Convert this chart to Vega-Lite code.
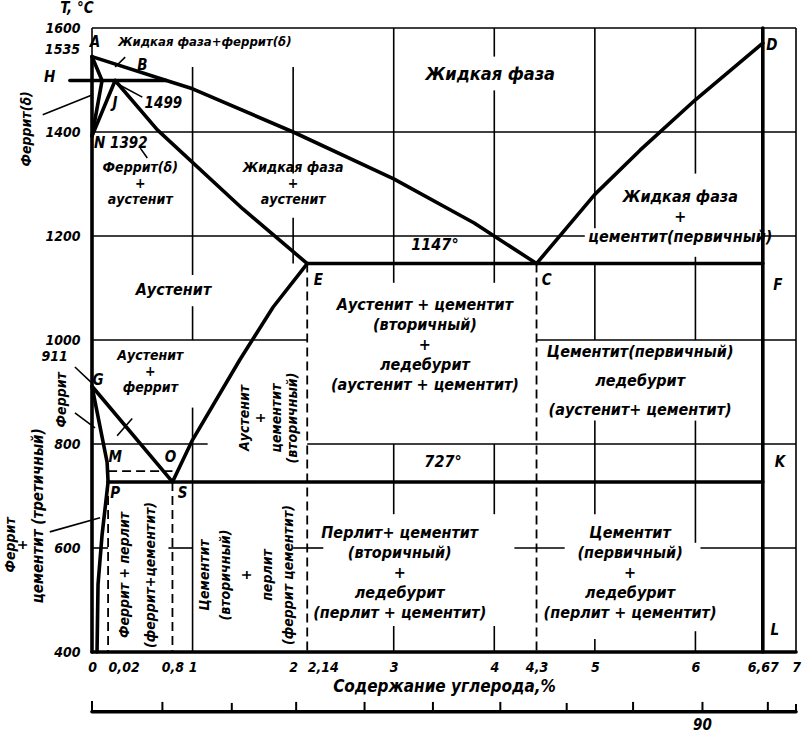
{
  "$schema": "https://vega.github.io/schema/vega-lite/v6.json",
  "width": 704,
  "height": 624,
  "autosize": {"type": "none"},
  "padding": {"left": 92, "top": 28, "right": 10, "bottom": 82},
  "background": "white",
  "config": {
    "view": {"stroke": null},
    "text": {"font": "DejaVu Sans Condensed, DejaVu Sans, sans-serif", "fontWeight": "bold", "fontStyle": "italic", "color": "black"}
  },
  "datasets": {
    "grid": [
      {"x": 0, "x2": 7, "t": 1400, "t2": 1400},
      {"x": 0, "x2": 4.9, "t": 1200, "t2": 1200},
      {"x": 6.67, "x2": 7, "t": 1200, "t2": 1200},
      {"x": 0, "x2": 2.14, "t": 1000, "t2": 1000},
      {"x": 4.42, "x2": 7, "t": 1000, "t2": 1000},
      {"x": 0, "x2": 1.15, "t": 800, "t2": 800},
      {"x": 2.14, "x2": 7, "t": 800, "t2": 800},
      {"x": 0, "x2": 0.16, "t": 600, "t2": 600},
      {"x": 0.76, "x2": 1.0, "t": 600, "t2": 600},
      {"x": 2.0, "x2": 2.3, "t": 600, "t2": 600},
      {"x": 4.2, "x2": 4.7, "t": 600, "t2": 600},
      {"x": 6.05, "x2": 7, "t": 600, "t2": 600},
      {"x": 1, "x2": 1, "t": 1525, "t2": 1125},
      {"x": 1, "x2": 1, "t": 1065, "t2": 1000},
      {"x": 1, "x2": 1, "t": 870, "t2": 400},
      {"x": 2, "x2": 2, "t": 1525, "t2": 1320},
      {"x": 2, "x2": 2, "t": 1235, "t2": 1147},
      {"x": 3, "x2": 3, "t": 1600, "t2": 1110},
      {"x": 3, "x2": 3, "t": 800, "t2": 665},
      {"x": 3, "x2": 3, "t": 450, "t2": 400},
      {"x": 4, "x2": 4, "t": 1600, "t2": 1545},
      {"x": 4, "x2": 4, "t": 1480, "t2": 1110},
      {"x": 4, "x2": 4, "t": 800, "t2": 665},
      {"x": 4, "x2": 4, "t": 450, "t2": 400},
      {"x": 5, "x2": 5, "t": 1600, "t2": 1215},
      {"x": 5, "x2": 5, "t": 1147, "t2": 1000},
      {"x": 5, "x2": 5, "t": 845, "t2": 665},
      {"x": 5, "x2": 5, "t": 425, "t2": 400},
      {"x": 6, "x2": 6, "t": 1600, "t2": 1320},
      {"x": 6, "x2": 6, "t": 1160, "t2": 1000},
      {"x": 6, "x2": 6, "t": 845, "t2": 610},
      {"x": 6, "x2": 6, "t": 440, "t2": 400},
      {"x": 0, "x2": 7, "t": 1600, "t2": 1600},
      {"x": 7, "x2": 7, "t": 1600, "t2": 400},
      {"x": 0, "x2": 0, "t": 1600, "t2": 1545}
    ],
    "scaleticks": [
      {"x": 0, "t": 285, "t2": 306},
      {"x": 0.7, "t": 285, "t2": 304},
      {"x": 1.39, "t": 285, "t2": 302},
      {"x": 2.03, "t": 285, "t2": 304},
      {"x": 2.71, "t": 285, "t2": 304},
      {"x": 3.39, "t": 285, "t2": 304},
      {"x": 4.06, "t": 285, "t2": 304},
      {"x": 4.72, "t": 285, "t2": 302},
      {"x": 5.38, "t": 285, "t2": 304},
      {"x": 6.07, "t": 285, "t2": 304},
      {"x": 6.72, "t": 285, "t2": 304},
      {"x": 7, "t": 285, "t2": 300}
    ],
    "thick": [
      {"id": "liq", "k": 0, "x": 0, "t": 1545},
      {"id": "liq", "k": 1, "x": 0.74, "t": 1499},
      {"id": "liq", "k": 2, "x": 1.0, "t": 1483},
      {"id": "liq", "k": 3, "x": 2.0, "t": 1400},
      {"id": "liq", "k": 4, "x": 3.0, "t": 1310},
      {"id": "liq", "k": 5, "x": 3.8, "t": 1225},
      {"id": "liq", "k": 6, "x": 4.42, "t": 1147},
      {"id": "je", "k": 0, "x": 0.23, "t": 1499},
      {"id": "je", "k": 1, "x": 0.65, "t": 1404},
      {"id": "je", "k": 2, "x": 1.5, "t": 1252},
      {"id": "je", "k": 3, "x": 2.14, "t": 1147},
      {"id": "cd", "k": 0, "x": 4.42, "t": 1147},
      {"id": "cd", "k": 1, "x": 5.0, "t": 1280},
      {"id": "cd", "k": 2, "x": 5.45, "t": 1365},
      {"id": "cd", "k": 3, "x": 6.0, "t": 1462},
      {"id": "cd", "k": 4, "x": 6.67, "t": 1571},
      {"id": "ecf", "k": 0, "x": 2.14, "t": 1147},
      {"id": "ecf", "k": 1, "x": 6.67, "t": 1147},
      {"id": "es", "k": 0, "x": 0.8, "t": 727},
      {"id": "es", "k": 1, "x": 1.0, "t": 808},
      {"id": "es", "k": 2, "x": 1.47, "t": 962},
      {"id": "es", "k": 3, "x": 1.8, "t": 1063},
      {"id": "es", "k": 4, "x": 2.14, "t": 1147},
      {"id": "gs", "k": 0, "x": 0, "t": 911},
      {"id": "gs", "k": 1, "x": 0.8, "t": 727},
      {"id": "gp", "k": 0, "x": 0, "t": 911},
      {"id": "gp", "k": 1, "x": 0.15, "t": 765},
      {"id": "gp", "k": 2, "x": 0.16, "t": 727},
      {"id": "pq", "k": 0, "x": 0.16, "t": 727},
      {"id": "pq", "k": 1, "x": 0.1, "t": 625},
      {"id": "pq", "k": 2, "x": 0.06, "t": 530},
      {"id": "pq", "k": 3, "x": 0.05, "t": 400},
      {"id": "psk", "k": 0, "x": 0.16, "t": 727},
      {"id": "psk", "k": 1, "x": 6.67, "t": 727},
      {"id": "ah", "k": 0, "x": 0, "t": 1545},
      {"id": "ah", "k": 1, "x": 0.1, "t": 1499},
      {"id": "hn", "k": 0, "x": 0.1, "t": 1499},
      {"id": "hn", "k": 1, "x": 0, "t": 1392},
      {"id": "jn", "k": 0, "x": 0.23, "t": 1499},
      {"id": "jn", "k": 1, "x": 0, "t": 1392},
      {"id": "hjb", "k": 0, "x": -0.22, "t": 1499},
      {"id": "hjb", "k": 1, "x": 0.74, "t": 1499},
      {"id": "left", "k": 0, "x": 0, "t": 400},
      {"id": "left", "k": 1, "x": 0, "t": 1545},
      {"id": "fe3c", "k": 0, "x": 6.67, "t": 400},
      {"id": "fe3c", "k": 1, "x": 6.67, "t": 1600},
      {"id": "bottom", "k": 0, "x": 0, "t": 400},
      {"id": "bottom", "k": 1, "x": 7, "t": 400},
      {"id": "bar", "k": 0, "x": 0, "t": 285},
      {"id": "bar", "k": 1, "x": 7, "t": 285}
    ],
    "dashed": [
      {"id": "p", "k": 0, "x": 0.16, "t": 727},
      {"id": "p", "k": 1, "x": 0.16, "t": 400},
      {"id": "s", "k": 0, "x": 0.8, "t": 727},
      {"id": "s", "k": 1, "x": 0.8, "t": 400},
      {"id": "e", "k": 0, "x": 2.14, "t": 1147},
      {"id": "e", "k": 1, "x": 2.14, "t": 400},
      {"id": "c", "k": 0, "x": 4.42, "t": 1147},
      {"id": "c", "k": 1, "x": 4.42, "t": 400},
      {"id": "mo", "k": 0, "x": 0.16, "t": 748},
      {"id": "mo", "k": 1, "x": 0.8, "t": 748}
    ],
    "thin": [
      {"id": "fd", "k": 0, "x": -0.49, "t": 1433},
      {"id": "fd", "k": 1, "x": 0, "t": 1471},
      {"id": "g911", "k": 0, "x": -0.17, "t": 948},
      {"id": "g911", "k": 1, "x": 0, "t": 917},
      {"id": "fer", "k": 0, "x": -0.17, "t": 860},
      {"id": "fer", "k": 1, "x": 0.03, "t": 831},
      {"id": "fct", "k": 0, "x": -0.42, "t": 631},
      {"id": "fct", "k": 1, "x": 0.08, "t": 658},
      {"id": "ldf", "k": 0, "x": 0.33, "t": 1544},
      {"id": "ldf", "k": 1, "x": 0.23, "t": 1525},
      {"id": "l1499", "k": 0, "x": 0.21, "t": 1497},
      {"id": "l1499", "k": 1, "x": 0.5, "t": 1467},
      {"id": "n1392", "k": 0, "x": 0.48, "t": 1369},
      {"id": "n1392", "k": 1, "x": 0.55, "t": 1350},
      {"id": "af", "k": 0, "x": 0.25, "t": 816},
      {"id": "af", "k": 1, "x": 0.4, "t": 849}
    ],
    "lab16": [
      {"x": 0.48, "t": 1331, "txt": "Феррит(δ)\n+\nаустенит"},
      {"x": 2.0, "t": 1331, "txt": "Жидкая фаза\n+\nаустенит"},
      {"x": 0.58, "t": 969, "txt": "Аустенит\n+\nферрит"}
    ],
    "lab20": [
      {"x": 5.85, "t": 1275, "txt": "Жидкая фаза\n+\nцементит(первичный)"},
      {"x": 3.41, "t": 1183, "txt": "1147°"},
      {"x": 0.81, "t": 1096, "txt": "Аустенит"},
      {"x": 3.31, "t": 1067, "txt": "Аустенит + цементит\n(вторичный)\n+\nледебурит\n(аустенит + цементит)"},
      {"x": 3.49, "t": 765, "txt": "727°"},
      {"x": 3.06, "t": 629, "txt": "Перлит+ цементит\n(вторичный)\n+\nледебурит\n(перлит + цементит)"},
      {"x": 5.35, "t": 629, "txt": "Цементит\n(первичный)\n+\nледебурит\n(перлит + цементит)"}
    ],
    "lab29": [
      {"x": 5.45, "t": 977, "txt": "Цементит(первичный)\nледебурит\n(аустенит+ цементит)"}
    ],
    "big": [
      {"x": 3.96, "t": 1510, "txt": "Жидкая фаза"}
    ],
    "leftlab": [
      {"x": 0.26, "t": 1573, "txt": "Жидкая фаза+феррит(δ)"}
    ],
    "leftlab15": [
      {"x": 0.0, "t": 1379, "txt": "N 1392"}
    ],
    "letters": [
      {"x": 0.03, "t": 1573, "txt": "A"},
      {"x": 0.5, "t": 1529, "txt": "B"},
      {"x": 0.23, "t": 1456, "txt": "J"},
      {"x": 0.71, "t": 1456, "txt": "1499"},
      {"x": 2.25, "t": 1115, "txt": "E"},
      {"x": 4.52, "t": 1115, "txt": "C"},
      {"x": 6.82, "t": 1106, "txt": "F"},
      {"x": 6.76, "t": 1567, "txt": "D"},
      {"x": 0.06, "t": 923, "txt": "G"},
      {"x": 0.23, "t": 775, "txt": "M"},
      {"x": 0.78, "t": 775, "txt": "O"},
      {"x": 0.23, "t": 706, "txt": "P"},
      {"x": 0.9, "t": 706, "txt": "S"},
      {"x": 6.84, "t": 765, "txt": "K"},
      {"x": 6.79, "t": 442, "txt": "L"},
      {"x": -0.42, "t": 1506, "txt": "H"},
      {"x": -0.15, "t": 1638, "txt": "T, °C"},
      {"x": 6.07, "t": 260, "txt": "90"}
    ],
    "ylab": [
      {"x": -0.12, "t": 1558, "txt": "1535"},
      {"x": -0.24, "t": 967, "txt": "911"}
    ],
    "rot16": [
      {"x": 1.52, "t": 850, "txt": "Аустенит\n+\nцементит\n(вторичный)"},
      {"x": -0.65, "t": 1406, "txt": "Феррит(δ)"},
      {"x": -0.3, "t": 885, "txt": "Феррит"}
    ],
    "rotwide": [
      {"x": -0.54, "t": 662, "txt": "цементит (третичный)"}
    ],
    "rot21": [
      {"x": 1.12, "t": 548, "txt": "Цементит\n(вторичный)\n+\nперлит\n(феррит цементит)"}
    ],
    "rot26": [
      {"x": 0.33, "t": 548, "txt": "Феррит + перлит\n(феррит+цементит)"}
    ],
    "rot12": [
      {"x": -0.81, "t": 606, "txt": "Феррит\n+"}
    ]
  },
  "encoding": {
    "x": {
      "field": "x", "type": "quantitative",
      "scale": {"domain": [0, 7], "nice": false, "zero": false},
      "axis": {
        "values": [0, 0.16, 0.8, 1, 2, 2.14, 3, 4, 4.42, 5, 6, 6.67, 7],
        "labelExpr": "datum.value == 0.16 ? '0,02' : datum.value == 4.42 ? '4,3' : replace(toString(datum.value), '.', ',')",
        "labelAlign": {"condition": {"test": "datum.value == 0.16 || datum.value == 2.14", "value": "left"}, "value": "center"},
        "ticks": false, "domain": false, "grid": false,
        "labelOverlap": false, "labelFlush": false,
        "labelFont": "DejaVu Sans Condensed, DejaVu Sans, sans-serif",
        "labelFontSize": 14, "labelFontWeight": "bold", "labelFontStyle": "italic", "labelColor": "black",
        "labelPadding": 8,
        "title": "Содержание углерода,%",
        "titleFont": "DejaVu Sans Condensed, DejaVu Sans, sans-serif",
        "titleFontSize": 17, "titleFontWeight": "bold", "titleFontStyle": "italic", "titleColor": "black",
        "titlePadding": 4
      }
    },
    "y": {
      "field": "t", "type": "quantitative",
      "scale": {"domain": [400, 1600], "nice": false, "zero": false},
      "axis": {
        "values": [400, 600, 800, 1000, 1200, 1400, 1600],
        "format": "d",
        "ticks": false, "domain": false, "grid": false,
        "labelOverlap": false, "labelFlush": false,
        "labelFont": "DejaVu Sans Condensed, DejaVu Sans, sans-serif",
        "labelFontSize": 14, "labelFontWeight": "bold", "labelFontStyle": "italic", "labelColor": "black",
        "labelPadding": 12,
        "title": null
      }
    }
  },
  "layer": [
    {"data": {"name": "grid"}, "mark": {"type": "rule", "color": "black", "strokeWidth": 1.6},
     "encoding": {"x2": {"field": "x2"}, "y2": {"field": "t2"}}},
    {"data": {"name": "scaleticks"}, "mark": {"type": "rule", "color": "black", "strokeWidth": 2},
     "encoding": {"y2": {"field": "t2"}}},
    {"data": {"name": "thin"}, "mark": {"type": "line", "color": "black", "strokeWidth": 1.6},
     "encoding": {"detail": {"field": "id"}, "order": {"field": "k"}}},
    {"data": {"name": "dashed"}, "mark": {"type": "line", "color": "black", "strokeWidth": 1.8, "strokeDash": [9, 5]},
     "encoding": {"detail": {"field": "id"}, "order": {"field": "k"}}},
    {"data": {"name": "thick"}, "mark": {"type": "line", "color": "black", "strokeWidth": 3.6, "strokeCap": "round", "strokeJoin": "round"},
     "encoding": {"detail": {"field": "id"}, "order": {"field": "k"}}},
    {"data": {"name": "lab16"}, "mark": {"type": "text", "fontSize": 14, "lineHeight": 16, "lineBreak": "\n", "align": "center", "baseline": "middle"},
     "encoding": {"text": {"field": "txt"}}},
    {"data": {"name": "lab20"}, "mark": {"type": "text", "fontSize": 16, "lineHeight": 20, "lineBreak": "\n", "align": "center", "baseline": "middle"},
     "encoding": {"text": {"field": "txt"}}},
    {"data": {"name": "lab29"}, "mark": {"type": "text", "fontSize": 16, "lineHeight": 29, "lineBreak": "\n", "align": "center", "baseline": "middle"},
     "encoding": {"text": {"field": "txt"}}},
    {"data": {"name": "big"}, "mark": {"type": "text", "fontSize": 18, "align": "center", "baseline": "middle"},
     "encoding": {"text": {"field": "txt"}}},
    {"data": {"name": "leftlab"}, "mark": {"type": "text", "fontSize": 13, "align": "left", "baseline": "middle"},
     "encoding": {"text": {"field": "txt"}}},
    {"data": {"name": "leftlab15"}, "mark": {"type": "text", "fontSize": 15, "align": "left", "baseline": "middle", "dx": 2},
     "encoding": {"text": {"field": "txt"}}},
    {"data": {"name": "letters"}, "mark": {"type": "text", "fontSize": 15, "align": "center", "baseline": "middle"},
     "encoding": {"text": {"field": "txt"}}},
    {"data": {"name": "ylab"}, "mark": {"type": "text", "fontSize": 14, "align": "right", "baseline": "middle"},
     "encoding": {"text": {"field": "txt"}}},
    {"data": {"name": "rot16"}, "mark": {"type": "text", "fontSize": 14, "angle": 270, "lineHeight": 16, "lineBreak": "\n", "align": "center", "baseline": "middle"},
     "encoding": {"text": {"field": "txt"}}},
    {"data": {"name": "rotwide"}, "mark": {"type": "text", "fontSize": 15, "angle": 270, "align": "center", "baseline": "middle"},
     "encoding": {"text": {"field": "txt"}}},
    {"data": {"name": "rot21"}, "mark": {"type": "text", "fontSize": 14, "angle": 270, "lineHeight": 21, "lineBreak": "\n", "align": "center", "baseline": "middle"},
     "encoding": {"text": {"field": "txt"}}},
    {"data": {"name": "rot26"}, "mark": {"type": "text", "fontSize": 14, "angle": 270, "lineHeight": 26, "lineBreak": "\n", "align": "center", "baseline": "middle"},
     "encoding": {"text": {"field": "txt"}}},
    {"data": {"name": "rot12"}, "mark": {"type": "text", "fontSize": 14, "angle": 270, "lineHeight": 12, "lineBreak": "\n", "align": "center", "baseline": "middle"},
     "encoding": {"text": {"field": "txt"}}}
  ]
}
